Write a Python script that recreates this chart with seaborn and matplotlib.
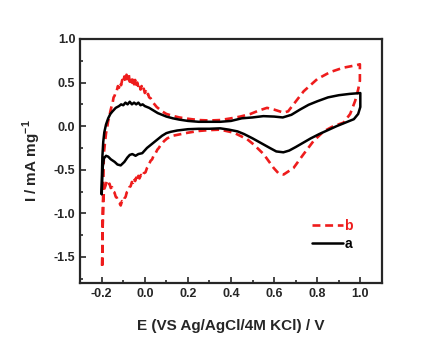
import matplotlib
matplotlib.use("Agg")
import matplotlib.pyplot as plt
import seaborn as sns
import pandas as pd
from matplotlib.ticker import MultipleLocator

# curve a (black, solid): anodic branch then cathodic branch
a_E = [-0.200, -0.199, -0.197, -0.193, -0.188, -0.180, -0.170, -0.160, -0.150, -0.135,
       -0.120, -0.110, -0.100, -0.090, -0.080, -0.070, -0.060, -0.050, -0.040, -0.030,
       -0.020, -0.010, 0.000, 0.020,
       0.040, 0.060, 0.080, 0.100, 0.130, 0.160, 0.200, 0.250, 0.300, 0.350,
       0.400, 0.450, 0.500, 0.550, 0.600, 0.640, 0.680, 0.720, 0.760, 0.800,
       0.850, 0.900, 0.950, 1.000,
       1.000, 0.990, 0.970, 0.930, 0.890, 0.850, 0.810, 0.770, 0.735, 0.700,
       0.670, 0.643, 0.610, 0.580, 0.540, 0.500, 0.460, 0.430, 0.390, 0.350,
       0.300, 0.250, 0.200, 0.150, 0.120, 0.100, 0.080, 0.050, 0.030, 0.010,
       -0.012, -0.030, -0.043, -0.058, -0.070, -0.081, -0.095, -0.112, -0.127, -0.140,
       -0.158, -0.170, -0.180, -0.190, -0.197, -0.200]
a_I = [-0.78, -0.55, -0.35, -0.18, -0.07, 0.02, 0.09, 0.14, 0.17, 0.21,
       0.23, 0.25, 0.24, 0.27, 0.25, 0.28, 0.25, 0.27, 0.25, 0.27,
       0.24, 0.25, 0.23, 0.21,
       0.18, 0.15, 0.13, 0.11, 0.09, 0.075, 0.06, 0.05, 0.05, 0.05,
       0.06, 0.09, 0.10, 0.115, 0.11, 0.10, 0.13, 0.19, 0.245, 0.285,
       0.33, 0.355, 0.37, 0.38,
       0.22, 0.14, 0.08, 0.04, 0.00, -0.045, -0.09, -0.14, -0.19, -0.24,
       -0.28, -0.30, -0.29, -0.25, -0.195, -0.14, -0.09, -0.06, -0.04, -0.025,
       -0.03, -0.03, -0.035, -0.05, -0.065, -0.08, -0.11, -0.17, -0.21, -0.25,
       -0.31, -0.32, -0.34, -0.32, -0.33, -0.36, -0.41, -0.45, -0.44, -0.41,
       -0.38, -0.35, -0.34, -0.37, -0.50, -0.78]

# curve b (red, dashed)
b_E = [-0.198, -0.196, -0.193, -0.190, -0.185, -0.180, -0.175, -0.170, -0.165, -0.160,
       -0.155, -0.150, -0.145, -0.140, -0.135, -0.130, -0.125, -0.120, -0.115, -0.110,
       -0.105, -0.100, -0.095, -0.090, -0.085, -0.080, -0.075, -0.070, -0.065, -0.060,
       -0.055, -0.050, -0.045, -0.040, -0.035, -0.030, -0.025, -0.020, -0.015, -0.010,
       -0.005, 0.000, 0.005, 0.010, 0.015, 0.020, 0.027, 0.035, 0.045, 0.055,
       0.065, 0.080, 0.100, 0.127, 0.160, 0.200, 0.250, 0.300, 0.350, 0.400, 0.443,
       0.490, 0.530, 0.567, 0.600, 0.644, 0.665, 0.690, 0.737, 0.800, 0.860,
       0.920, 0.983, 0.998,
       0.998, 0.990, 0.976, 0.953, 0.922, 0.875, 0.830, 0.783, 0.737, 0.690,
       0.644, 0.620, 0.598, 0.551, 0.505, 0.475, 0.413, 0.350, 0.300, 0.250,
       0.200, 0.150, 0.130, 0.104, 0.090, 0.075, 0.065, 0.058, 0.050, 0.042,
       0.034, 0.026, 0.018, 0.010, 0.003, -0.005, -0.012, -0.018, -0.025, -0.030,
       -0.035, -0.040, -0.045, -0.050, -0.055, -0.060, -0.066, -0.072, -0.078, -0.084,
       -0.089, -0.095, -0.100, -0.106, -0.112, -0.118, -0.124, -0.130, -0.135, -0.141,
       -0.147, -0.152, -0.158, -0.164, -0.170, -0.176, -0.182, -0.188, -0.193, -0.196,
       -0.198]
b_I = [-1.60, -1.20, -0.70, -0.31, -0.20, -0.08, -0.02, 0.06, 0.10, 0.17,
       0.22, 0.26, 0.33, 0.35, 0.40, 0.41, 0.46, 0.44, 0.50, 0.47,
       0.53, 0.50, 0.57, 0.52, 0.59, 0.54, 0.60, 0.51, 0.56, 0.50,
       0.55, 0.48, 0.53, 0.46, 0.50, 0.45, 0.48, 0.42, 0.46, 0.41,
       0.43, 0.38, 0.40, 0.35, 0.37, 0.33, 0.32, 0.28, 0.25, 0.22,
       0.20, 0.17, 0.14, 0.12, 0.10, 0.085, 0.07, 0.065, 0.07, 0.09, 0.11,
       0.14, 0.18, 0.21, 0.19, 0.155, 0.17, 0.25, 0.40, 0.54, 0.62,
       0.67, 0.70, 0.71,
       0.52, 0.42, 0.29, 0.14, 0.04, 0.00, -0.06, -0.17, -0.32, -0.48,
       -0.555, -0.54, -0.48, -0.32, -0.21, -0.15, -0.075, -0.04, -0.045, -0.055,
       -0.075, -0.10, -0.11, -0.14, -0.17, -0.21, -0.25, -0.27, -0.31, -0.33,
       -0.38, -0.40, -0.45, -0.48, -0.53, -0.54, -0.58, -0.56, -0.60, -0.57,
       -0.62, -0.59, -0.63, -0.60, -0.65, -0.64, -0.69, -0.70, -0.75, -0.76,
       -0.81, -0.83, -0.87, -0.86, -0.91, -0.88, -0.87, -0.82, -0.81, -0.76,
       -0.75, -0.70, -0.71, -0.66, -0.67, -0.63, -0.68, -0.72, -0.85, -1.20,
       -1.60]

x_ticks = [-0.2, 0.0, 0.2, 0.4, 0.6, 0.8, 1.0]
y_ticks = [-1.5, -1.0, -0.5, 0.0, 0.5, 1.0]

sns.set_style("ticks")
plt.rcParams['font.family'] = ['Liberation Sans', 'DejaVu Sans']
plt.rcParams['font.weight'] = 'bold'
plt.rcParams['mathtext.fontset'] = 'custom'
plt.rcParams['mathtext.rm'] = 'Liberation Sans:bold'
plt.rcParams['mathtext.bf'] = 'Liberation Sans:bold'

df_a = pd.DataFrame({'E': a_E, 'I': a_I})
df_b = pd.DataFrame({'E': b_E, 'I': b_I})

fig = plt.figure(figsize=(4.43, 3.39), dpi=100)
ax = fig.add_axes([0.181, 0.165, 0.681, 0.72])

sns.lineplot(data=df_b, x='E', y='I', sort=False, estimator=None, ax=ax,
             color='#ee1c1c', linewidth=1.9, label='b')
sns.lineplot(data=df_a, x='E', y='I', sort=False, estimator=None, ax=ax,
             color='black', linewidth=1.8, label='a')
ax.lines[0].set_dashes((3, 1.8))

ax.set_xlim(-0.3, 1.1)
ax.set_ylim(-1.8, 1.0)
ax.set_xticks(x_ticks)
ax.set_xticklabels([f'{v:.1f}' for v in x_ticks])
ax.set_yticks(y_ticks)
ax.set_yticklabels([f'{v:.1f}' for v in y_ticks])
ax.xaxis.set_minor_locator(MultipleLocator(0.1))
ax.yaxis.set_minor_locator(MultipleLocator(0.25))
ax.tick_params(which='both', direction='in', labelsize=9, width=1.2)
ax.tick_params(which='major', length=4.5)
ax.tick_params(which='minor', length=2.5)
for s in ax.spines.values():
    s.set_linewidth(1.6)
    s.set_visible(True)

ax.set_xlabel('E (VS Ag/AgCl/4M KCl) / V', fontsize=11, fontweight='bold', labelpad=14)
ax.set_ylabel('I / mA mg$^{-1}$', fontsize=11, fontweight='bold', labelpad=8)

leg = ax.legend(loc='lower right', bbox_to_anchor=(0.945, 0.08), frameon=False,
                fontsize=10, handlelength=2.2, handletextpad=0.1,
                labelspacing=0.3, labelcolor='linecolor')

fig.savefig('out.png', dpi=100)
